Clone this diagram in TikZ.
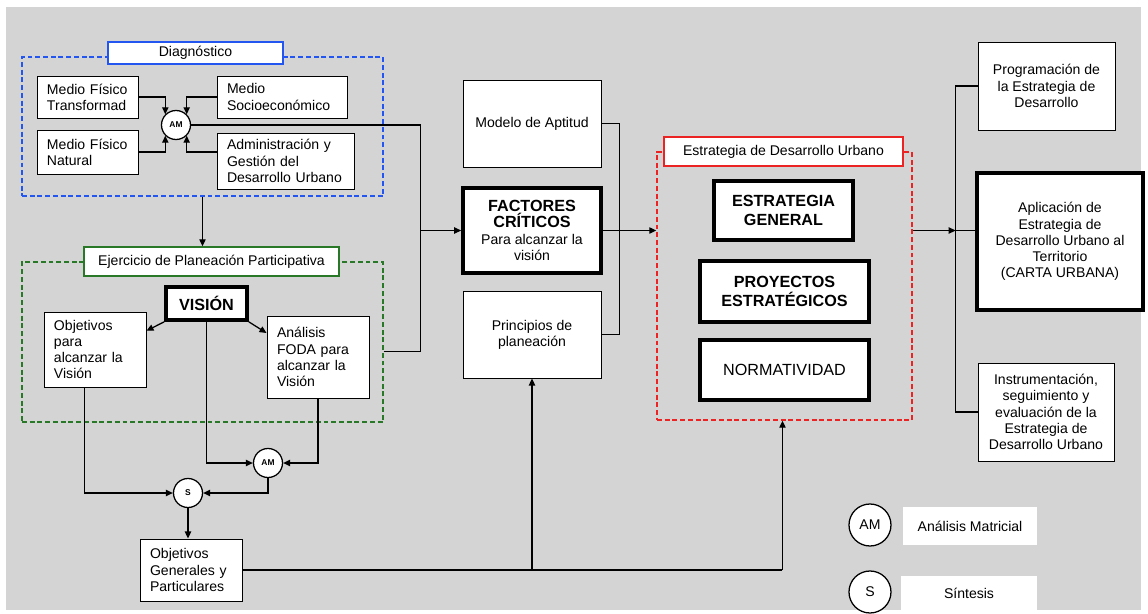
\documentclass[tikz,border=0pt]{standalone}
\usepackage{fontspec}
\setmainfont{Liberation Sans}
\usetikzlibrary{positioning,arrows.meta,calc}
\definecolor{fondo}{RGB}{212,212,212}
\definecolor{azul}{RGB}{35,85,240}
\definecolor{verde}{RGB}{40,120,40}
\definecolor{rojo}{RGB}{235,35,35}
\newcommand{\negrita}{\fontsize{11.5}{13.5}\selectfont\bfseries}
\tikzset{
caja/.style={draw, fill=white, line width=0.7pt, inner sep=0pt, align=center,
  font=\fontsize{10}{11.5}\selectfont},
cajaizq/.style={caja, align=left, inner xsep=2.5mm},
cajagruesa/.style={caja, line width=2.6pt},
marco/.style={draw, dash pattern=on 3.5pt off 2pt, line width=1pt, inner sep=0pt},
titulo/.style={draw, fill=white, line width=1pt, inner sep=0pt,
  font=\fontsize{10}{11.5}\selectfont},
circulo/.style={circle, draw, fill=white, line width=0.9pt, inner sep=0pt,
  minimum size=7.25mm, font=\fontsize{6}{7}\selectfont\bfseries},
flecha/.style={-{Triangle[length=5pt,width=4.5pt]}, line width=0.9pt},
linea/.style={line width=0.9pt}
}
\begin{document}
\begin{tikzpicture}[x=0.25mm, y=-0.25mm]
  \useasboundingbox (0,0) rectangle (1148,614);
  \fill[white] (0,0) rectangle (1148,614);
  \fill[fondo] (6,7) rectangle (1141,610);

  % Diagnostico
  \node[marco, draw=azul, minimum width=90.25mm, minimum height=34.75mm] (diag) at (202.5,126.5) {};
  \node[titulo, draw=azul, minimum width=43.75mm, minimum height=5.5mm] (tdiag) at (195.5,53) {Diagnóstico};
  \node[cajaizq, text width=20.25mm, minimum height=10.5mm] (mft) at (87.5,97) {Medio Físico\\Transformad};
  \node[cajaizq, text width=27.5mm, minimum height=10.5mm] (mse) at (282,97) {Medio\\Socioeconómico};
  \node[cajaizq, text width=20.25mm, minimum height=11mm] (mfn) at (87.5,152) {Medio Físico\\Natural};
  \node[cajaizq, text width=29.25mm, minimum height=14mm] (adm) at (285.5,161) {Administración y\\Gestión del\\Desarrollo Urbano};
  \node[circulo] (am1) at (176,125) {AM};

  % Ejercicio de planeacion
  \node[marco, draw=verde, minimum width=90.25mm, minimum height=40mm] (ejer) at (202.5,342) {};
  \node[titulo, draw=verde, minimum width=63.75mm, minimum height=7.25mm] (tejer) at (211.5,261.5) {Ejercicio de Planeación Participativa};
  \node[cajagruesa, minimum width=20.25mm, minimum height=8.25mm, font=\negrita] (vision) at (206.5,303.5) {VISIÓN};
  \node[cajaizq, text width=20.5mm, minimum height=18.75mm] (objv) at (95,349.5) {Objetivos\\para\\alcanzar la\\Visión};
  \node[cajaizq, text width=20.5mm, minimum height=20.5mm] (foda) at (318,357) {Análisis\\FODA para\\alcanzar la\\Visión};
  \node[circulo] (am2) at (268,463) {AM};
  \node[circulo] (sin) at (188,493) {S};
  \node[cajaizq, text width=20.5mm, minimum height=15.5mm] (objg) at (191,570) {Objetivos\\Generales y\\Particulares};

  % columna central
  \node[caja, minimum width=34.5mm, minimum height=21.75mm] (modelo) at (532,123.5) {Modelo de Aptitud};
  \node[cajagruesa, minimum width=34.5mm, minimum height=21.25mm] (factores) at (532,230.5)
    {{\negrita FACTORES}\\{\negrita CRÍTICOS}\\Para alcanzar la\\visión};
  \node[caja, minimum width=34.5mm, minimum height=21.75mm] (princ) at (532,334.5) {Principios de\\planeación};

  % Estrategia
  \node[marco, draw=rojo, minimum width=63.75mm, minimum height=67mm] (estr) at (784.5,286) {};
  \node[titulo, draw=rojo, minimum width=59.75mm, minimum height=7.25mm] (testr) at (783.5,151.5) {Estrategia de Desarrollo Urbano};
  \node[cajagruesa, minimum width=34.75mm, minimum height=14.75mm, font=\negrita] (egen) at (783.5,210.5) {ESTRATEGIA\\GENERAL};
  \node[cajagruesa, minimum width=42.25mm, minimum height=15.25mm, font=\negrita] (proy) at (784.5,291.5) {PROYECTOS\\ESTRATÉGICOS};
  \node[cajagruesa, minimum width=42.25mm, minimum height=15mm, font=\fontsize{11.5}{13.5}\selectfont] (norm) at (784.5,370) {NORMATIVIDAD};

  % columna derecha
  \node[caja, minimum width=34.25mm, minimum height=22mm] (prog) at (1046.5,86) {Programación de\\la Estrategia de\\Desarrollo};
  \node[cajagruesa, minimum width=41.5mm, minimum height=34.25mm] (apli) at (1060,241.5)
    {Aplicación de\\Estrategia de\\Desarrollo Urbano al\\Territorio\\(CARTA URBANA)};
  \node[caja, minimum width=34mm, minimum height=24.5mm] (instr) at (1046,412)
    {Instrumentación,\\seguimiento y\\evaluación de la\\Estrategia de\\Desarrollo Urbano};

  % leyenda
  \node[circulo, minimum size=10.5mm, font=\fontsize{10}{11.5}\selectfont] (leyam) at (870,525) {AM};
  \node[caja, draw=none, minimum width=33.5mm, minimum height=9.5mm] (leyaml) at (970,526) {Análisis Matricial};
  \node[circulo, minimum size=10.5mm, font=\fontsize{10}{11.5}\selectfont] (leys) at (870,592) {S};
  \node[caja, draw=none, minimum width=34mm, minimum height=8.5mm] (leysl) at (969,593) {Síntesis};

  \path (factores.west) ++(-41,0) coordinate (jn1);
  \path (factores.east) ++(17,0) coordinate (jn2);
  \path (objg.east) ++(540,0) coordinate (jn3);
  \path (estr.east |- factores.east) ++(43,0) coordinate (jn4);

  \draw[flecha] (mft.east) -| (am1.north west);
  \draw[flecha] (mse.west) -| (am1.north east);
  \draw[flecha] (mfn.east) -| (am1.south west);
  \draw[flecha] (adm.west |- mfn.east) -| (am1.south east);
  \draw[linea] (am1.east) -| (jn1);
  \draw[linea] (ejer.-3) -| (jn1);
  \draw[flecha] (jn1) -- (factores.west);
  \draw[flecha] (diag.south) -- (diag.south |- tejer.north);

  \draw[flecha] (vision.south west) -- (objv.20);
  \draw[flecha] (vision.south east) -- (foda.155);
  \draw[flecha] (vision.south) |- (am2.west);
  \draw[flecha] (foda.south) |- (am2.east);
  \draw[flecha] (am2.south) |- (sin.east);
  \draw[flecha] (objv.255) |- (sin.west);
  \draw[flecha] (sin.south) -- (sin.south |- objg.north);
  \draw[linea] (objg.east) -- (jn3);
  \draw[flecha] (princ.south |- objg.east) -- (princ.south);
  \draw[flecha] (jn3) -- (jn3 |- estr.south);

  \draw[linea] (modelo.east) -| (jn2) |- (princ.east);
  \draw[flecha] (factores.east) -- (factores.east -| estr.west);
  \draw[flecha] (estr.east |- factores.east) -- (jn4);
  \draw[linea] (jn4) -- (apli.west |- jn4);
  \draw[linea] (prog.west) -| (jn4) |- (instr.west);
\end{tikzpicture}
\end{document}
